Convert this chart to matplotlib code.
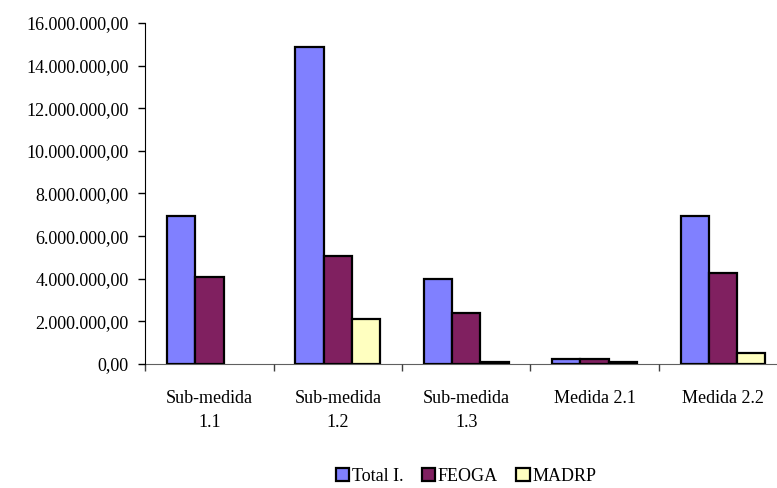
import matplotlib.pyplot as plt
import numpy as np
from matplotlib.patches import Patch

plt.rcParams['font.family'] = ['Liberation Serif', 'DejaVu Serif']

categories = ["Sub-medida\n1.1", "Sub-medida\n1.2", "Sub-medida\n1.3", "Medida 2.1", "Medida 2.2"]
series_names = ["Total I.", "FEOGA", "MADRP"]
total_i = [6940000, 14880000, 3980000, 230000, 6950000]
feoga = [4100000, 5050000, 2390000, 230000, 4260000]
madrp = [0, 2100000, 100000, 100000, 510000]
colors = ["#8080FF", "#802060", "#FFFFC0"]


def pt_format(v, pos=None):
    s = "{:,.2f}".format(v)
    return s.replace(",", "X").replace(".", ",").replace("X", ".")


fig = plt.figure(figsize=(7.77, 4.88), dpi=100)
ax = fig.add_axes([0.187, 0.254, 0.826, 0.699])

x = np.arange(len(categories))
w = 0.22
for i, vals in enumerate([total_i, feoga, madrp]):
    bars = ax.bar(x + (i - 1) * w, vals, w, color=colors[i], edgecolor="black",
                  linewidth=1.6)
    # empty values are not drawn at all
    for b, v in zip(bars, vals):
        if v == 0:
            b.set_visible(False)

ax.set_xlim(-0.5, len(categories) - 0.5)
ax.set_ylim(0, 16000000)
ax.set_yticks(np.arange(0, 16000001, 2000000))
ax.yaxis.set_major_formatter(plt.FuncFormatter(pt_format))

ax.set_xticks(x)
ax.set_xticklabels(categories, linespacing=1.5)
ax.set_xticks(np.arange(-0.5, len(categories), 1), minor=True)
ax.tick_params(axis="x", which="major", length=0, pad=19, labelsize=13)
ax.tick_params(axis="x", which="minor", length=5, width=1, color="#404040")
ax.tick_params(axis="y", length=5, width=1, pad=7, labelsize=13)

ax.spines["top"].set_visible(False)
ax.spines["right"].set_visible(False)
ax.spines["bottom"].set_color("#606060")
ax.spines["bottom"].set_zorder(0)

handles = [Patch(facecolor=c, edgecolor="black", linewidth=1.6) for c in colors]
ax.legend(handles, series_names, loc="center", bbox_to_anchor=(0.5, -0.33),
          ncol=3, frameon=False, handlelength=0.75, handleheight=0.75,
          handletextpad=0.15, columnspacing=1.0, fontsize=13)

fig.savefig("out.png", dpi=100)
